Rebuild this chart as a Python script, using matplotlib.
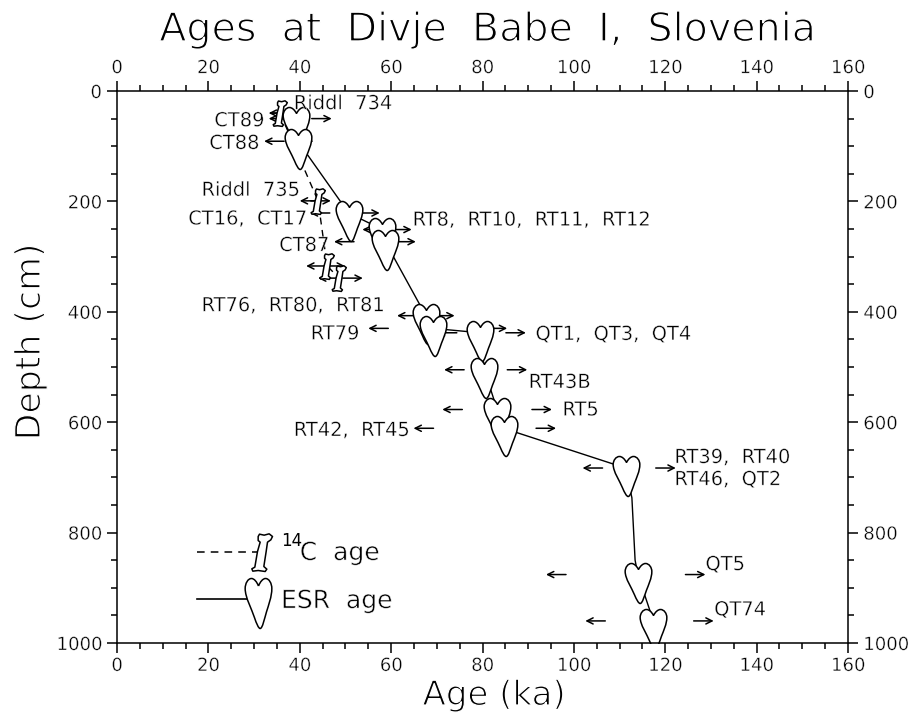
import numpy as np
import matplotlib
matplotlib.use("Agg")
import matplotlib.pyplot as plt
import matplotlib.patheffects as pe
from matplotlib.path import Path

##########
##Values##
##########
#ESR ages (hearts), depth in cm
esr_age = [39.2, 39.6, 50.7, 58.1, 58.7, 67.6, 69.1, 79.5, 80.4, 83.2, 84.6, 111.3, 114.0, 117.4]
esr_depth = [50, 91, 221, 251, 273, 407, 430, 438, 505, 577, 611, 683, 876, 960]
#Where the error arrows end
esr_low = [33.2, 32.2, 42.2, 53.7, 47.5, 61.3, 55.0, 70.0, 71.6, 71.2, 64.9, 101.9, 93.9, 102.5]
esr_high = [47.0, 43.0, 57.5, 64.5, 65.4, 73.9, 85.4, 89.5, 89.8, 95.2, 96.1, 122.3, 128.8, 130.6]

#The ESR curve runs nearly straight down between the last hearts
esr_line_age = [39.2, 39.6, 50.7, 58.1, 58.7, 67.6, 69.1, 79.5, 80.4, 83.2, 84.6, 111.3, 112.7, 113.4, 114.0, 117.4]
esr_line_depth = [50, 91, 221, 251, 273, 407, 430, 438, 505, 577, 611, 683, 737, 850, 876, 960]

#14C ages (bones)
c14_age = [35.7, 44.0, 46.0, 48.6]
c14_depth = [40, 199, 317, 339]
c14_low = [33.2, 40.0, 41.4, 44.0]
c14_high = [38.0, 46.8, 49.9, 53.8]

sample_labels = ["Riddl  734", "CT89", "CT88", "Riddl  735", "CT16,  CT17", "CT87",
                 "RT8,  RT10,  RT11,  RT12", "RT76,  RT80,  RT81", "RT79",
                 "QT1,  QT3,  QT4", "RT43B", "RT5", "RT42,  RT45",
                 "RT39,  RT40", "RT46,  QT2", "QT5", "QT74"]
sample_label_age = [38.7, 21.3, 20.2, 18.5, 15.6, 35.5, 64.7, 18.5, 42.4,
                    91.6, 90.1, 97.5, 38.7, 122.0, 122.0, 128.8, 130.7]
sample_label_depth = [23, 54, 95, 180, 232, 280, 234, 389, 440,
                      441, 528, 578, 615, 664, 704, 858, 940]

x_ticks = np.arange(0, 161, 20)
y_ticks = np.arange(0, 1001, 200)

###########
##Markers##
###########
heart_verts = np.array([(0, 18), (5, 28), (13, 36), (21, 36), (32, 36), (40, 24), (40, 12),
                        (40, -8), (30, -28), (24, -44), (18, -60), (12, -84), (5, -84),
                        (0, -84), (-6, -72), (-12, -58), (-20, -38), (-40, -10), (-40, 12),
                        (-40, 24), (-32, 36), (-21, 36), (-13, 36), (-5, 28), (0, 18)], dtype=float)
heart_codes = [Path.MOVETO] + [Path.CURVE4]*24
heart = Path(heart_verts, heart_codes)
#legend heart is taller than the ones in the plot
heart_big = Path(heart_verts*[1, 1.25] + [0, 18], heart_codes)

bone_pts = [(262, 80), (266, 73), (280, 76), (295, 72), (305, 80), (300, 90), (290, 97),
            (286, 125), (279, 170), (288, 178), (283, 185), (262, 182), (246, 184),
            (243, 177), (252, 172), (260, 125), (268, 97), (262, 92), (262, 80)]
bone = Path([(x-275, 128-y) for x, y in bone_pts], closed=True)

########
##Plot##
########
plt.rcParams['font.family'] = 'DejaVu Sans'
px = 72/100.
#the original lettering is a thin stroked font, so shave the glyphs a bit
def thin(lw):
    return [pe.Stroke(linewidth=lw, foreground='white')]

fig = plt.figure(figsize=(9.15, 7.15), dpi=100)
ax = fig.add_axes([117/915, 1-643/715, 731/915, 552/715])
ax.set_xlim(0, 160)
ax.set_ylim(1000, 0)

ax.set_xticks(x_ticks)
ax.set_xticks(np.arange(0, 161, 5), minor=True)
ax.set_yticks(y_ticks)
ax.set_yticks(np.arange(0, 1001, 50), minor=True)
ax.tick_params(which='both', top=True, right=True, labeltop=True, labelright=True, width=1.1)
ax.tick_params(which='major', length=7, labelsize=13)
ax.tick_params(which='minor', length=4.5)
ax.tick_params(axis='x', which='major', pad=3)
ax.tick_params(axis='y', which='major', pad=4)
for sp in ax.spines.values():
    sp.set_linewidth(1.1)
for tick in ax.xaxis.get_major_ticks()+ax.yaxis.get_major_ticks():
    tick.label1.set_path_effects(thin(0.3))
    tick.label2.set_path_effects(thin(0.3))

ax.set_xlabel("Age (ka)", fontsize=24.5, path_effects=thin(0.9))
ax.xaxis.set_label_coords(494/915, 10/715, transform=fig.transFigure)
ax.xaxis.label.set_verticalalignment('baseline')
ax.set_ylabel("Depth (cm)", fontsize=25, path_effects=thin(0.9))
ax.yaxis.set_label_coords(30/915, 1-342/715, transform=fig.transFigure)
ax.yaxis.label.set_verticalalignment('center')
fig.text(488/915, 1-30/715, "Ages  at  Divje  Babe  I,  Slovenia", fontsize=28.5, ha='center', va='center',
         path_effects=thin(1.0))

#Error arrows go under the markers
def draw_arrows(ages, depths, lows, highs):
    for a, d, lo, hi in zip(ages, depths, lows, highs):
        for tip, side in ((lo, 1), (hi, -1)):
            ax.annotate("", xy=(tip, d), xytext=(side*20, 0), textcoords='offset pixels',
                        arrowprops=dict(arrowstyle='->', lw=1.1, color='k', shrinkA=0, shrinkB=0,
                                        mutation_scale=11), zorder=1.5)

draw_arrows(c14_age, c14_depth, c14_low, c14_high)
draw_arrows(esr_age, esr_depth, esr_low, esr_high)

ax.plot(c14_age, c14_depth, color='k', lw=1.0, ls=(0, (5, 4)), marker=bone, ms=114/3*0.68*px,
        mfc='white', mec='k', mew=1.1, zorder=2)
ax.plot(esr_line_age, esr_line_depth, color='k', lw=1.0, zorder=2.2)
ax.plot(esr_age, esr_depth, ls='none', marker=heart, ms=56*px,
        mfc='white', mec='k', mew=1.1, zorder=2.5)

for lab, a, d in zip(sample_labels, sample_label_age, sample_label_depth):
    ax.text(a, d, lab, fontsize=14, ha='left', va='center', zorder=4, path_effects=thin(0.3))

#Hand drawn legend inside the axes
ax.plot([17.5, 31.5], [835, 835], color='k', lw=1.1, ls=(0, (5, 4)), marker=None, zorder=2)
ax.plot([31.7], [835], marker=bone, ms=38*px, mfc='white', mec='k', mew=1.1, ls='none', zorder=2.5)
ax.plot([17.5, 30.9], [920, 920], color='k', lw=1.2, zorder=2)
ax.plot([30.9], [920], marker=heart_big, ms=58*px, mfc='white', mec='k', mew=1.1, ls='none', zorder=2.5)
ax.text(35.9, 815, "14", fontsize=12, ha='left', va='center')
ax.text(40.0, 837, "C  age", fontsize=18, ha='left', va='center', path_effects=thin(0.4))
ax.text(35.9, 924, "ESR  age", fontsize=18, ha='left', va='center', path_effects=thin(0.4))

fig.savefig("out.png", dpi=100)
